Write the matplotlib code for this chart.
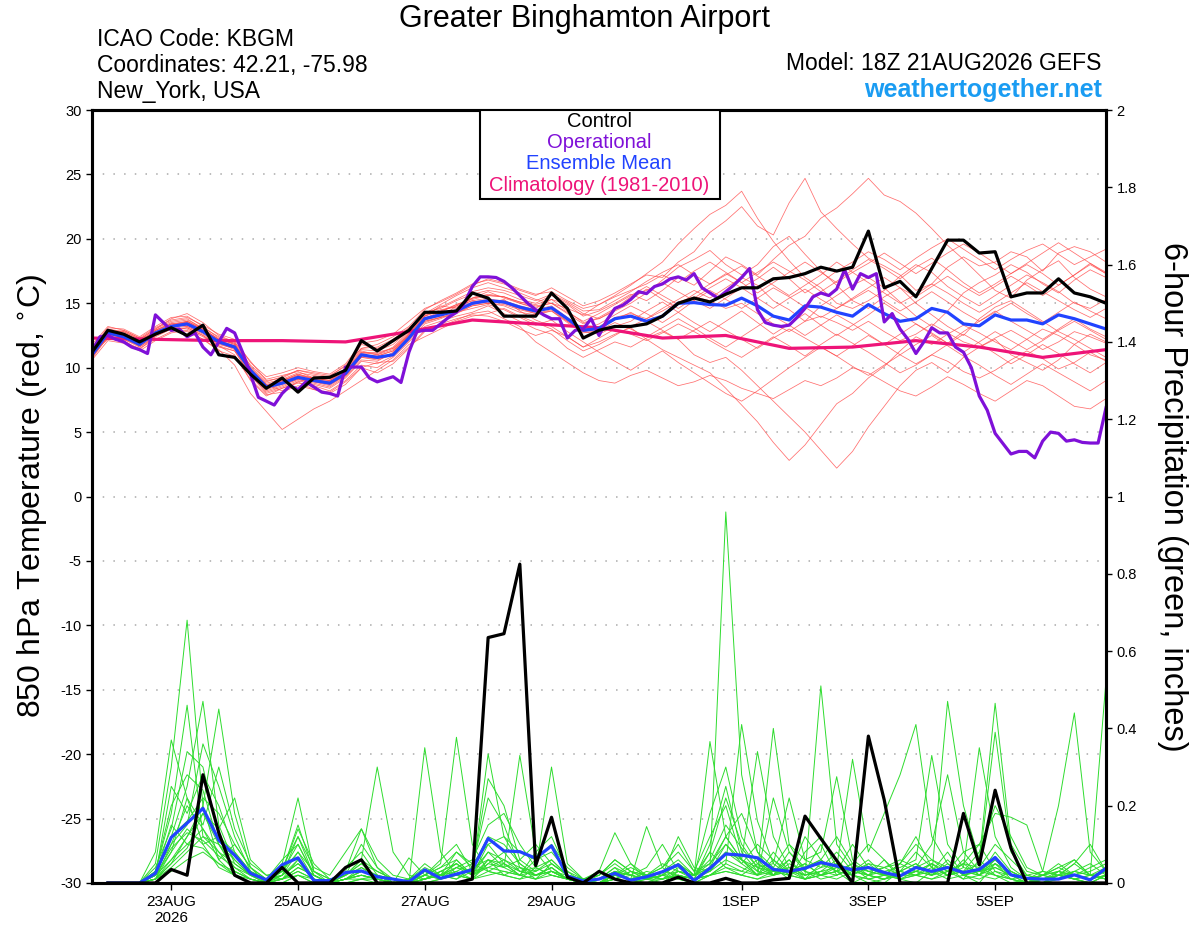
import numpy as np
import pandas as pd
from matplotlib import pyplot as plt
from matplotlib.patches import Rectangle

plt.rcParams['font.family'] = ['Liberation Sans', 'DejaVu Sans']
plt.rcParams['axes.unicode_minus'] = False

# 6-hourly steps from 18Z 21 Aug 2026 (GEFS), 3-hourly for the operational run
times = pd.date_range('2026-08-21 18:00', periods=65, freq='6h')
times_op = pd.date_range('2026-08-21 18:00', periods=129, freq='3h')
times_clim = pd.date_range('2026-08-21 18:00', periods=17, freq='24h')

tick_days = pd.to_datetime(['2026-08-23', '2026-08-25', '2026-08-27', '2026-08-29',
                            '2026-09-01', '2026-09-03', '2026-09-05'])
tick_labels = ['23AUG\n2026', '25AUG', '27AUG', '29AUG', '1SEP', '3SEP', '5SEP']

# 850 hPa temperature (C)
t_control = [11.2, 12.9, 12.6, 12.0, 12.6, 13.1, 12.5, 13.3, 11.0, 10.8, 9.5, 8.4, 9.2,
             8.1, 9.2, 9.25, 9.8, 12.1, 11.3, 12.1, 12.9, 14.3, 14.3, 14.4, 15.8, 15.4,
             14.0, 14.0, 14.0, 15.8, 14.6, 12.3, 12.9, 13.2, 13.2, 13.4, 14.0, 15.0, 15.4,
             15.1, 15.7, 16.2, 16.2, 16.9, 17.0, 17.3, 17.8, 17.5, 17.8, 20.6, 16.2, 16.7,
             15.5, 17.7, 19.9, 19.9, 18.9, 19.0, 15.5, 15.8, 15.8, 16.9, 15.8, 15.5, 15.0]
t_mean = [11.0, 12.7, 12.4, 11.8, 12.7, 13.2, 13.4, 12.8, 12.0, 11.6, 9.8, 8.5, 8.8,
          9.25, 9.0, 8.8, 9.55, 11.0, 10.8, 11.0, 12.3, 13.8, 14.1, 14.4, 15.0, 15.2,
          15.1, 14.7, 14.4, 14.65, 13.8, 12.9, 13.05, 13.8, 14.0, 13.6, 14.0, 15.0, 15.05,
          14.9, 14.85, 15.4, 14.8, 14.0, 13.7, 14.8, 14.7, 14.3, 14.0, 14.9, 14.2, 13.6,
          13.8, 14.6, 14.3, 13.4, 13.25, 14.1, 13.7, 13.7, 13.4, 14.1, 13.8, 13.4, 13.0]
t_oper = [11.3, 12.4, 12.5, 12.2, 12.0, 11.6, 11.4, 11.1, 14.1, 13.5, 12.9, 13.0, 12.4,
          12.7, 11.6, 11.0, 12.0, 13.05, 12.7, 11.2, 9.5, 7.7, 7.4, 7.1, 8.0, 8.6,
          8.3, 8.9, 8.5, 8.1, 8.0, 7.8, 10.05, 10.05, 10.05, 9.2, 8.9, 9.1, 9.3, 8.85,
          11.2, 12.8, 12.9, 12.9, 13.4, 13.9, 14.3, 15.0, 16.3, 17.05, 17.05, 17.0, 16.7,
          16.2, 15.6, 15.0, 14.5, 14.1, 13.8, 13.8, 12.3, 12.9, 13.0, 13.8, 12.5, 13.7,
          14.6, 14.85, 15.3, 15.9, 15.75, 16.3, 16.5, 16.9, 17.05, 16.8, 17.3, 16.2, 15.8,
          15.4, 15.9, 16.4, 17.0, 17.7, 14.5, 13.5, 13.3, 13.2, 13.3, 13.9, 14.6, 15.5,
          15.8, 15.6, 16.1, 17.6, 16.1, 17.3, 17.0, 17.3, 13.55, 14.2, 13.0, 12.2, 11.1,
          12.0, 13.1, 12.7, 12.7, 11.6, 11.2, 10.0, 7.8, 6.7, 4.9, 4.1, 3.3, 3.5,
          3.5, 3.0, 4.3, 5.0, 4.9, 4.3, 4.4, 4.2, 4.15, 4.15, 6.9]
t_clim = [12.3, 12.2, 12.1, 12.1, 12.0, 12.8, 13.7, 13.4, 13.1, 12.3, 12.5, 11.5, 11.6,
          12.1, 11.6, 10.8, 11.4]

t_members = [
    [11.5, 12.9, 12.8, 12.2, 13.0, 13.8, 14.2, 13.5, 12.5, 12.0, 10.5, 9.0, 9.2, 9.8, 9.5, 9.3, 10.2,
     11.5, 11.8, 12.4, 13.2, 14.5, 15.2, 15.8, 16.5, 16.8, 16.5, 16.0, 15.6, 16.2, 15.5, 14.8, 15.2,
     15.8, 16.5, 17.2, 17.0, 18.2, 19.0, 20.5, 21.4, 22.5, 21.0, 20.3, 22.8, 24.7, 22.1, 20.8, 19.6,
     18.5, 17.9, 17.2, 16.0, 16.5, 17.8, 18.6, 17.9, 18.2, 19.0, 18.6, 17.5, 18.9, 19.4, 19.0, 18.2],
    [10.8, 12.5, 12.6, 11.6, 12.4, 13.0, 13.6, 13.0, 12.2, 11.9, 9.6, 8.2, 8.6, 9.1, 8.8, 8.5, 9.3,
     10.6, 10.5, 11.2, 12.6, 14.0, 14.8, 14.6, 15.4, 15.9, 15.4, 15.0, 14.6, 15.3, 14.9, 14.0, 14.4,
     15.0, 15.7, 15.2, 16.0, 17.0, 16.4, 17.5, 18.6, 18.0, 17.2, 18.4, 19.5, 20.2, 21.6, 22.4, 23.5,
     24.7, 23.4, 22.9, 22.0, 20.8, 19.5, 18.4, 17.2, 16.0, 15.4, 16.8, 17.6, 18.3, 17.0, 16.1, 15.5],
    [11.2, 12.2, 12.1, 11.4, 12.5, 13.1, 13.0, 12.4, 11.7, 11.0, 9.0, 7.8, 8.4, 8.8, 8.6, 8.2, 9.0,
     10.2, 10.0, 10.8, 12.0, 13.2, 13.6, 14.0, 14.3, 14.8, 14.2, 13.6, 13.0, 12.6, 11.5, 10.8, 11.4,
     12.0, 11.6, 12.3, 12.8, 12.2, 11.0, 10.4, 10.8, 9.8, 8.6, 7.4, 6.2, 5.0, 3.6, 2.2, 3.5,
     5.4, 7.0, 8.6, 9.8, 10.4, 9.6, 10.8, 11.6, 12.2, 11.0, 10.4, 9.8, 10.6, 11.8, 12.6, 12.0],
    [11.0, 12.8, 12.3, 11.9, 12.9, 13.4, 13.2, 12.6, 11.8, 11.5, 9.9, 8.7, 8.2, 8.9, 9.3, 9.1, 9.8,
     11.3, 11.0, 11.6, 12.8, 13.5, 13.9, 14.8, 15.2, 15.0, 15.3, 14.4, 13.7, 13.2, 12.4, 11.6, 12.0,
     12.6, 13.1, 12.2, 11.4, 10.8, 10.2, 9.6, 8.4, 7.1, 5.8, 4.2, 2.8, 4.0, 5.6, 7.2, 8.0,
     9.2, 10.1, 11.3, 12.4, 11.8, 12.6, 13.3, 12.7, 12.0, 11.4, 12.2, 13.0, 12.5, 11.8, 11.0, 10.6],
    [10.9, 12.3, 12.0, 11.5, 12.2, 12.8, 13.1, 12.5, 11.6, 11.3, 9.4, 8.0, 8.4, 8.9, 8.3, 8.1, 8.9,
     10.0, 10.4, 10.5, 11.6, 12.9, 13.2, 13.7, 14.2, 14.4, 13.8, 13.2, 12.0, 11.2, 10.4, 9.6, 9.0,
     8.8, 9.4, 9.8, 9.2, 8.6, 8.9, 9.4, 9.0, 8.4, 8.0, 7.6, 8.3, 9.0, 8.6, 9.2, 10.0,
     9.6, 8.9, 8.2, 7.8, 8.5, 9.3, 8.7, 8.0, 7.4, 8.2, 9.0, 8.6, 7.8, 7.0, 6.8, 7.6],
    [11.3, 12.6, 12.9, 12.3, 12.6, 13.0, 12.8, 12.2, 11.4, 10.2, 8.0, 6.6, 5.2, 6.0, 6.8, 7.4, 8.2,
     9.0, 9.8, 10.6, 11.8, 12.4, 13.0, 13.6, 14.0, 14.2, 14.6, 14.0, 13.5, 13.0, 12.1, 11.3, 11.8,
     12.5, 13.2, 13.8, 14.6, 15.3, 16.0, 15.4, 16.2, 17.0, 16.4, 15.2, 14.5, 13.6, 14.8, 15.6, 16.4,
     17.0, 16.2, 15.1, 14.0, 13.2, 14.4, 15.8, 16.6, 17.2, 18.0, 17.4, 16.5, 15.8, 16.8, 17.6, 17.0],
    [11.6, 13.1, 13.0, 12.4, 13.2, 13.9, 14.0, 13.2, 12.3, 11.8, 10.2, 9.1, 9.4, 9.7, 9.2, 9.0, 9.9,
     11.8, 11.5, 12.0, 13.0, 14.3, 14.6, 15.2, 15.7, 16.0, 15.8, 15.3, 15.0, 15.6, 15.0, 14.2, 13.8,
     14.4, 15.0, 15.8, 16.8, 17.8, 18.4, 19.1, 18.0, 17.2, 18.0, 19.4, 20.2, 18.8, 17.5, 16.4, 15.2,
     14.6, 15.5, 16.2, 15.0, 14.1, 13.2, 12.5, 13.8, 14.7, 15.2, 14.4, 13.6, 12.8, 12.2, 11.5, 10.8],
    [10.7, 12.4, 12.2, 11.7, 12.6, 13.3, 13.5, 12.9, 12.1, 11.7, 9.7, 8.4, 9.0, 9.5, 9.1, 8.9, 9.6,
     11.1, 11.2, 11.5, 12.5, 13.7, 14.3, 14.9, 15.3, 15.6, 15.5, 15.1, 14.8, 15.0, 14.6, 14.1, 14.9,
     15.6, 16.4, 17.3, 18.2, 19.6, 20.8, 21.9, 22.6, 23.7, 21.6, 19.8, 18.3, 17.0, 16.2, 15.0, 14.6,
     15.2, 16.0, 17.1, 18.0, 17.4, 16.3, 15.5, 14.8, 15.6, 16.4, 17.2, 16.6, 15.9, 15.0, 14.6, 15.3],
    [11.1, 12.7, 12.5, 11.8, 12.8, 13.2, 13.3, 12.8, 12.0, 11.6, 9.8, 8.6, 8.9, 9.3, 9.0, 8.8, 9.5,
     10.9, 10.7, 11.1, 12.4, 13.9, 14.2, 14.5, 15.1, 15.3, 15.2, 14.8, 14.5, 14.8, 13.9, 13.0, 13.2,
     13.9, 14.2, 13.8, 14.4, 15.1, 15.5, 15.2, 14.6, 15.0, 14.2, 13.4, 12.8, 13.6, 14.0, 13.5, 12.9,
     13.6, 12.8, 12.1, 12.6, 13.4, 12.7, 12.0, 11.6, 12.3, 12.9, 12.2, 11.4, 12.0, 12.8, 12.4, 11.9],
    [11.4, 12.9, 12.7, 12.1, 12.9, 13.5, 13.7, 13.1, 12.4, 12.0, 10.1, 8.9, 9.3, 9.8, 9.6, 9.4, 10.1,
     11.5, 11.6, 12.2, 13.1, 14.2, 14.9, 15.6, 16.2, 16.6, 16.2, 15.8, 15.3, 15.0, 14.2, 13.4, 13.9,
     14.6, 15.5, 16.0, 16.6, 15.9, 15.2, 14.6, 15.4, 16.2, 16.9, 17.8, 16.9, 15.8, 16.6, 17.5, 18.2,
     19.0, 18.4, 17.6, 18.5, 19.3, 20.0, 19.2, 18.4, 17.6, 18.4, 19.1, 19.6, 18.8, 18.0, 18.6, 19.2],
    [10.6, 12.1, 11.9, 11.3, 12.1, 12.7, 12.9, 12.2, 11.3, 10.9, 9.1, 7.9, 8.1, 8.6, 8.3, 8.0, 8.7,
     10.0, 9.6, 10.3, 11.5, 12.8, 13.4, 13.8, 14.1, 14.0, 13.6, 13.0, 12.5, 12.9, 12.4, 11.6, 12.3,
     13.0, 12.6, 12.1, 12.7, 13.4, 12.8, 12.1, 11.4, 10.8, 11.6, 12.4, 11.7, 10.9, 11.8, 12.6, 11.9,
     11.2, 10.4, 9.6, 10.2, 11.0, 10.5, 9.7, 9.2, 9.8, 10.6, 11.3, 10.7, 9.9, 10.4, 11.2, 10.5],
    [11.8, 13.2, 12.9, 12.3, 13.1, 13.7, 13.9, 13.3, 12.6, 12.2, 10.4, 9.3, 9.6, 10.0, 9.7, 9.5, 10.3,
     11.9, 12.1, 12.6, 13.6, 14.6, 15.1, 15.7, 16.4, 16.9, 16.6, 16.1, 15.7, 15.9, 15.2, 14.6, 14.9,
     15.5, 16.0, 16.5, 17.2, 16.6, 17.5, 18.2, 17.4, 16.6, 17.4, 18.2, 17.5, 16.8, 15.9, 16.7, 17.6,
     18.4, 17.7, 16.9, 17.8, 18.5, 17.6, 16.6, 15.8, 16.5, 17.3, 18.0, 17.3, 16.4, 17.2, 18.1, 17.4],
    [11.0, 12.6, 12.4, 11.9, 12.6, 13.1, 13.2, 12.7, 11.9, 11.4, 9.6, 8.3, 8.7, 9.1, 8.9, 8.6, 9.4,
     10.8, 10.6, 11.0, 12.2, 13.6, 13.9, 14.2, 14.8, 15.0, 14.8, 14.3, 14.1, 14.4, 13.6, 12.8, 12.6,
     13.2, 13.6, 14.4, 15.1, 14.3, 13.5, 12.8, 13.6, 14.4, 13.5, 12.6, 13.4, 14.2, 13.3, 12.5, 13.3,
     14.1, 15.0, 14.2, 13.4, 12.6, 11.9, 12.8, 13.6, 14.4, 13.6, 12.9, 12.2, 13.0, 13.8, 13.0, 12.4],
    [11.5, 13.0, 12.8, 12.2, 13.0, 13.6, 13.8, 13.0, 12.2, 11.8, 10.0, 8.8, 9.1, 9.6, 9.4, 9.2, 9.9,
     11.4, 11.3, 11.8, 12.9, 14.1, 14.7, 15.3, 15.9, 16.2, 16.0, 15.6, 15.2, 15.7, 15.1, 14.4, 14.5,
     15.2, 15.9, 16.7, 17.4, 18.0, 17.2, 16.5, 17.2, 17.9, 17.1, 16.4, 15.6, 16.4, 17.2, 18.2, 17.4,
     16.6, 15.8, 15.0, 15.7, 16.5, 15.8, 15.0, 14.3, 15.0, 15.8, 16.6, 15.9, 15.2, 14.5, 13.9, 14.6],
    [10.9, 12.4, 12.2, 11.6, 12.5, 13.0, 13.1, 12.5, 11.7, 11.3, 9.5, 8.1, 8.5, 9.0, 8.7, 8.4, 9.2,
     10.5, 10.3, 10.9, 12.1, 13.4, 13.8, 14.3, 14.6, 14.9, 14.5, 13.9, 13.3, 13.7, 12.8, 12.0, 11.2,
     10.5, 9.8, 10.6, 11.3, 10.4, 9.6, 8.8, 8.0, 7.4, 8.2, 9.1, 10.0, 10.8, 11.6, 10.9, 10.1,
     9.4, 10.2, 11.0, 11.8, 12.5, 11.7, 10.9, 10.2, 9.4, 8.7, 9.5, 10.3, 9.6, 8.9, 8.2, 9.0],
    [11.3, 12.8, 12.6, 12.0, 12.7, 13.3, 13.6, 13.0, 12.2, 11.9, 9.9, 8.6, 9.0, 9.4, 9.2, 9.0, 9.7,
     11.2, 11.0, 11.4, 12.6, 14.0, 14.5, 14.7, 15.2, 15.4, 15.0, 14.6, 14.3, 14.6, 13.7, 12.9, 13.4,
     14.1, 14.8, 14.2, 13.5, 14.3, 15.2, 16.0, 15.3, 14.6, 15.4, 16.2, 15.5, 14.7, 13.9, 14.6, 15.3,
     16.0, 15.2, 14.4, 15.1, 15.9, 15.1, 14.3, 13.6, 14.3, 15.0, 14.2, 13.5, 14.3, 15.1, 14.4, 13.8],
    [10.8, 12.5, 12.3, 11.7, 12.6, 13.2, 13.4, 12.9, 12.1, 11.6, 9.7, 8.5, 8.8, 9.2, 8.9, 8.7, 9.4,
     10.9, 10.9, 11.3, 12.4, 13.7, 14.0, 14.4, 14.9, 15.1, 15.0, 14.6, 14.2, 14.4, 13.5, 12.7, 12.9,
     13.5, 13.0, 12.4, 13.1, 13.8, 13.1, 12.3, 11.6, 12.4, 13.2, 14.0, 13.3, 12.5, 13.3, 14.1, 13.4,
     12.6, 11.8, 12.6, 13.4, 12.7, 11.9, 11.2, 12.0, 12.8, 12.1, 11.4, 12.1, 12.9, 13.6, 12.9, 12.2],
    [11.2, 12.7, 12.5, 11.9, 12.8, 13.4, 13.5, 12.8, 12.0, 11.7, 9.8, 8.6, 8.9, 9.4, 9.1, 8.9, 9.6,
     11.0, 10.9, 11.3, 12.5, 13.8, 14.4, 14.8, 15.4, 15.7, 15.5, 15.0, 14.7, 15.0, 14.3, 13.6, 14.2,
     14.9, 15.6, 16.3, 15.6, 14.9, 15.7, 16.5, 17.3, 16.6, 15.8, 16.6, 17.4, 18.2, 17.4, 16.6, 17.4,
     18.1, 18.9, 18.1, 17.3, 18.1, 18.9, 19.6, 18.9, 18.1, 17.3, 18.1, 18.9, 19.7, 18.9, 18.1, 17.3],
    [11.1, 12.6, 12.3, 11.8, 12.7, 13.2, 13.3, 12.7, 11.9, 11.5, 9.6, 8.4, 8.8, 9.2, 9.0, 8.7, 9.4,
     10.8, 10.7, 11.0, 12.3, 13.6, 13.9, 14.3, 14.8, 15.0, 14.9, 14.5, 14.2, 14.5, 13.6, 12.8, 13.0,
     13.7, 14.3, 13.6, 12.9, 12.2, 12.9, 13.6, 12.9, 12.2, 11.5, 12.3, 13.0, 12.3, 11.6, 10.9, 11.7,
     12.5, 11.8, 11.0, 10.3, 11.0, 11.8, 12.6, 11.9, 11.1, 10.3, 11.0, 11.8, 11.1, 10.3, 9.6, 10.4],
    [11.4, 12.8, 12.5, 12.0, 12.9, 13.4, 13.6, 12.9, 12.1, 11.7, 9.8, 8.7, 9.0, 9.5, 9.2, 9.0, 9.7,
     11.2, 11.1, 11.5, 12.7, 14.0, 14.4, 14.9, 15.4, 15.6, 15.5, 15.1, 14.9, 15.3, 14.4, 13.5, 13.8,
     14.5, 15.3, 16.1, 15.3, 14.6, 15.4, 16.2, 16.9, 16.2, 15.4, 14.6, 15.4, 16.1, 15.3, 14.6, 15.4,
     16.2, 17.0, 16.2, 15.5, 16.3, 17.1, 16.3, 15.6, 16.3, 17.1, 16.4, 15.6, 16.4, 17.2, 18.0, 17.3],
]

# 6-hour precipitation (inches), first value is the analysis time
p_control = [0, 0, 0, 0, 0, 0.035, 0.02, 0.28, 0.13, 0.02, 0, 0, 0.04,
             0, 0, 0, 0.04, 0.06, 0, 0, 0, 0, 0, 0, 0.01, 0.635,
             0.645, 0.825, 0.045, 0.17, 0.015, 0, 0.03, 0.01, 0, 0, 0, 0.015, 0,
             0, 0.012, 0, 0, 0.008, 0.012, 0.173, 0.115, 0.058, 0, 0.38, 0.215, 0,
             0, 0, 0, 0.18, 0.047, 0.24, 0.09, 0, 0, 0, 0, 0, 0]
p_mean = [0, 0, 0, 0, 0.025, 0.118, 0.155, 0.193, 0.111, 0.072, 0.025, 0.008, 0.047,
          0.065, 0.006, 0.006, 0.027, 0.031, 0.016, 0.01, 0.003, 0.034, 0.012, 0.023, 0.034, 0.115,
          0.083, 0.081, 0.064, 0.096, 0.018, 0.005, 0.01, 0.025, 0.007, 0.016, 0.029, 0.047, 0.006,
          0.038, 0.075, 0.072, 0.065, 0.035, 0.03, 0.038, 0.053, 0.044, 0.034, 0.04, 0.027, 0.018,
          0.04, 0.03, 0.04, 0.027, 0.035, 0.066, 0.021, 0.012, 0.01, 0.01, 0.021, 0.008, 0.038]

p_members = [
    [0, 0, 0, 0, 0.05, 0.30, 0.68, 0.20, 0.06, 0.02, 0, 0, 0.03, 0.08, 0.01, 0, 0.02, 0.05, 0.01, 0, 0,
     0.03, 0.01, 0.06, 0.02, 0.10, 0.05, 0.02, 0.08, 0.12, 0.03, 0, 0.01, 0.04, 0, 0, 0.02, 0.05, 0.01,
     0.08, 0.22, 0.10, 0.04, 0.02, 0.06, 0.01, 0.05, 0.03, 0, 0.02, 0.06, 0.01, 0, 0.03, 0.08, 0.02, 0,
     0.05, 0.01, 0, 0, 0.03, 0.06, 0.02, 0.04],
    [0, 0, 0, 0, 0.03, 0.18, 0.46, 0.12, 0.08, 0.03, 0.01, 0, 0.05, 0.22, 0.03, 0, 0.01, 0.03, 0.02, 0,
     0.01, 0.05, 0.02, 0.01, 0.04, 0.22, 0.15, 0.04, 0.02, 0.03, 0.01, 0, 0, 0.02, 0.05, 0.01, 0, 0.03,
     0.02, 0.366, 0.12, 0.06, 0.02, 0.04, 0.01, 0.08, 0.12, 0.04, 0.02, 0.01, 0, 0.03, 0.05, 0.02, 0.04,
     0.01, 0.06, 0.02, 0, 0.01, 0, 0.02, 0.01, 0, 0.02],
    [0, 0, 0, 0, 0.02, 0.12, 0.25, 0.47, 0.15, 0.05, 0.02, 0.01, 0.06, 0.10, 0.02, 0, 0.03, 0.14, 0.04,
     0, 0, 0.02, 0.05, 0.377, 0.10, 0.03, 0.02, 0.01, 0.04, 0.06, 0.02, 0.01, 0.03, 0.13, 0.05, 0.02,
     0.01, 0.04, 0.01, 0.02, 0.05, 0.41, 0.16, 0.05, 0.02, 0.01, 0.03, 0.06, 0.02, 0, 0.01, 0.03, 0.02,
     0.01, 0.03, 0.05, 0.02, 0.01, 0.03, 0.01, 0, 0.02, 0.05, 0.10, 0.03],
    [0, 0, 0, 0, 0.01, 0.06, 0.12, 0.20, 0.45, 0.18, 0.04, 0, 0.02, 0.06, 0.01, 0, 0.02, 0.06, 0.30,
     0.08, 0.02, 0.01, 0.03, 0.05, 0.02, 0.334, 0.12, 0.05, 0.02, 0.03, 0.01, 0, 0, 0.02, 0.01, 0.146,
     0.04, 0.01, 0.02, 0.04, 0.96, 0.28, 0.08, 0.02, 0.05, 0.03, 0.10, 0.02, 0.04, 0.01, 0.02, 0.05,
     0.12, 0.04, 0.02, 0.06, 0.02, 0.08, 0.03, 0.01, 0.02, 0.05, 0.02, 0.01, 0.04],
    [0, 0, 0, 0, 0.08, 0.37, 0.22, 0.10, 0.04, 0.02, 0, 0, 0.04, 0.12, 0.02, 0, 0.04, 0.08, 0.02, 0.01,
     0, 0.35, 0.08, 0.02, 0.01, 0.05, 0.04, 0.33, 0.08, 0.03, 0.01, 0, 0.02, 0.05, 0.02, 0.01, 0.03,
     0.06, 0.02, 0.05, 0.10, 0.06, 0.34, 0.12, 0.04, 0.02, 0.51, 0.10, 0.04, 0.02, 0.01, 0.03, 0.05,
     0.02, 0.03, 0.01, 0.02, 0.06, 0.02, 0, 0.01, 0.03, 0.01, 0, 0.02],
    [0, 0, 0, 0, 0.04, 0.14, 0.34, 0.30, 0.12, 0.06, 0.02, 0.01, 0.03, 0.15, 0.03, 0.01, 0.02, 0.04,
     0.01, 0, 0.01, 0.02, 0.01, 0.04, 0.03, 0.27, 0.20, 0.06, 0.03, 0.30, 0.05, 0.01, 0, 0.02, 0.04,
     0.02, 0.05, 0.03, 0.01, 0.10, 0.25, 0.08, 0.03, 0.40, 0.10, 0.03, 0.02, 0.05, 0.02, 0.04, 0.03,
     0.01, 0.03, 0.02, 0.05, 0.02, 0.04, 0.02, 0.01, 0, 0.02, 0.01, 0.03, 0.02, 0.01],
    [0, 0, 0, 0, 0.02, 0.25, 0.18, 0.28, 0.20, 0.08, 0.03, 0, 0.02, 0.05, 0.01, 0, 0.01, 0.02, 0.01, 0,
     0, 0.01, 0.02, 0.03, 0.01, 0.06, 0.04, 0.02, 0.03, 0.05, 0.02, 0, 0.01, 0.03, 0.02, 0.04, 0.10,
     0.03, 0.02, 0.06, 0.15, 0.09, 0.04, 0.05, 0.22, 0.06, 0.08, 0.275, 0.06, 0.03, 0.02, 0.02, 0.04,
     0.10, 0.28, 0.08, 0.03, 0.05, 0.02, 0.01, 0.03, 0.02, 0.02, 0.01, 0.03],
    [0, 0, 0, 0, 0.03, 0.20, 0.28, 0.24, 0.10, 0.04, 0.01, 0, 0.01, 0.04, 0.02, 0, 0.01, 0.03, 0.02,
     0.01, 0, 0.02, 0.06, 0.10, 0.03, 0.08, 0.06, 0.04, 0.01, 0.05, 0.02, 0.01, 0, 0.01, 0.03, 0.02,
     0.04, 0.08, 0.03, 0.12, 0.20, 0.06, 0.02, 0.03, 0.04, 0.02, 0.03, 0.04, 0.32, 0.08, 0.18, 0.28,
     0.41, 0.12, 0.05, 0.02, 0.03, 0.04, 0.02, 0.01, 0, 0.01, 0.02, 0.01, 0.02],
    [0, 0, 0, 0, 0.01, 0.10, 0.15, 0.36, 0.25, 0.12, 0.03, 0.01, 0.02, 0.08, 0.03, 0.01, 0.02, 0.10,
     0.04, 0.01, 0, 0.01, 0.02, 0.08, 0.04, 0.12, 0.10, 0.05, 0.02, 0.04, 0.01, 0, 0, 0.02, 0.01, 0.03,
     0.02, 0.05, 0.02, 0.03, 0.08, 0.05, 0.10, 0.06, 0.02, 0.12, 0.06, 0.03, 0.05, 0.02, 0.03, 0.04,
     0.06, 0.33, 0.10, 0.04, 0.35, 0.12, 0.04, 0.01, 0.02, 0.01, 0.03, 0.02, 0.01],
    [0, 0, 0, 0, 0.02, 0.08, 0.22, 0.15, 0.30, 0.14, 0.05, 0.02, 0.03, 0.10, 0.02, 0, 0.01, 0.04, 0.02,
     0, 0.01, 0.04, 0.02, 0.05, 0.02, 0.04, 0.03, 0.02, 0.06, 0.08, 0.03, 0.01, 0.02, 0.06, 0.03, 0.01,
     0.02, 0.12, 0.04, 0.03, 0.06, 0.04, 0.02, 0.08, 0.03, 0.05, 0.02, 0.04, 0.03, 0.06, 0.02, 0.05,
     0.03, 0.02, 0.47, 0.20, 0.06, 0.465, 0.10, 0.03, 0.02, 0.04, 0.02, 0.03, 0.05],
    [0, 0, 0, 0, 0.01, 0.05, 0.12, 0.18, 0.14, 0.22, 0.06, 0.02, 0.01, 0.06, 0.01, 0, 0.02, 0.05, 0.03,
     0.01, 0, 0.02, 0.04, 0.06, 0.02, 0.05, 0.08, 0.03, 0.02, 0.04, 0.01, 0, 0.01, 0.04, 0.02, 0.01,
     0.03, 0.02, 0.01, 0.04, 0.12, 0.06, 0.03, 0.02, 0.08, 0.04, 0.06, 0.03, 0.10, 0.04, 0.02, 0.03,
     0.08, 0.04, 0.02, 0.03, 0.05, 0.39, 0.08, 0.02, 0.03, 0.20, 0.44, 0.08, 0.03],
    [0, 0, 0, 0, 0.02, 0.15, 0.10, 0.14, 0.08, 0.05, 0.02, 0, 0.02, 0.05, 0.02, 0, 0.01, 0.02, 0.01, 0,
     0.065, 0.02, 0.01, 0.03, 0.05, 0.03, 0.05, 0.02, 0.01, 0.03, 0.02, 0, 0, 0.03, 0.01, 0.02, 0.01,
     0.03, 0.02, 0.08, 0.04, 0.02, 0.05, 0.03, 0.06, 0.02, 0.04, 0.08, 0.03, 0.02, 0.04, 0.02, 0.03,
     0.05, 0.02, 0.04, 0.03, 0.06, 0.02, 0.01, 0.02, 0.04, 0.06, 0.02, 0.525],
    [0, 0, 0, 0, 0.03, 0.10, 0.20, 0.14, 0.06, 0.10, 0.04, 0.01, 0.01, 0.03, 0.01, 0, 0.01, 0.02, 0.01,
     0, 0, 0.01, 0.03, 0.02, 0.04, 0.06, 0.02, 0.04, 0.03, 0.06, 0.02, 0.01, 0, 0.01, 0.03, 0.01, 0.02,
     0.01, 0, 0.02, 0.05, 0.03, 0.06, 0.02, 0.04, 0.01, 0.02, 0.03, 0.02, 0.05, 0.02, 0.01, 0.02, 0.04,
     0.02, 0.05, 0.10, 0.03, 0.01, 0.02, 0.01, 0.02, 0.05, 0.02, 0.01],
    [0, 0, 0, 0, 0.01, 0.04, 0.08, 0.12, 0.10, 0.06, 0.02, 0, 0.01, 0.02, 0.01, 0, 0.01, 0.01, 0.02, 0,
     0, 0.01, 0.02, 0.01, 0.03, 0.04, 0.06, 0.03, 0.02, 0.04, 0.01, 0, 0, 0.02, 0.01, 0.02, 0.01, 0.02,
     0.01, 0.03, 0.10, 0.05, 0.02, 0.22, 0.08, 0.03, 0.01, 0.02, 0.04, 0.02, 0.01, 0.02, 0.03, 0.02,
     0.06, 0.02, 0.01, 0.03, 0.02, 0, 0.01, 0.02, 0.01, 0.02, 0.01],
    [0, 0, 0, 0, 0.02, 0.06, 0.10, 0.09, 0.05, 0.03, 0.01, 0, 0, 0.02, 0, 0, 0, 0.01, 0, 0, 0, 0, 0.01,
     0.02, 0.01, 0.03, 0.02, 0.01, 0.02, 0.03, 0.01, 0, 0, 0.01, 0, 0.01, 0.02, 0.01, 0, 0.02, 0.03,
     0.02, 0.01, 0.02, 0.03, 0.01, 0.02, 0.01, 0.03, 0.02, 0.01, 0.02, 0.02, 0.03, 0.01, 0.02, 0.03,
     0.02, 0.01, 0, 0.01, 0.02, 0.01, 0, 0.02],
    [0, 0, 0, 0, 0.01, 0.08, 0.14, 0.10, 0.12, 0.08, 0.03, 0.01, 0.02, 0.12, 0.04, 0.02, 0.08, 0.14,
     0.06, 0.02, 0.01, 0.03, 0.02, 0.04, 0.06, 0.15, 0.18, 0.10, 0.04, 0.02, 0.01, 0, 0.01, 0.03, 0.02,
     0.01, 0.03, 0.05, 0.02, 0.18, 0.30, 0.12, 0.05, 0.02, 0.03, 0.05, 0.02, 0.03, 0.05, 0.10, 0.06,
     0.02, 0.03, 0.05, 0.02, 0.03, 0.08, 0.20, 0.12, 0.04, 0.02, 0.03, 0.02, 0.04, 0.06],
    [0, 0, 0, 0, 0.02, 0.12, 0.16, 0.22, 0.18, 0.10, 0.04, 0.01, 0.03, 0.14, 0.05, 0.01, 0.02, 0.06,
     0.03, 0.01, 0, 0.02, 0.04, 0.08, 0.05, 0.10, 0.12, 0.08, 0.06, 0.10, 0.04, 0.01, 0.02, 0.06, 0.03,
     0.02, 0.04, 0.10, 0.03, 0.05, 0.12, 0.18, 0.08, 0.04, 0.10, 0.06, 0.04, 0.05, 0.03, 0.05, 0.04,
     0.06, 0.04, 0.06, 0.03, 0.05, 0.04, 0.10, 0.06, 0.02, 0.01, 0.02, 0.03, 0.05, 0.02],
    [0, 0, 0, 0, 0.01, 0.05, 0.09, 0.18, 0.10, 0.03, 0.01, 0, 0.01, 0.04, 0.02, 0, 0.01, 0.03, 0.02, 0,
     0, 0.01, 0.03, 0.05, 0.02, 0.08, 0.04, 0.06, 0.10, 0.05, 0.02, 0, 0, 0.01, 0.02, 0.01, 0.02, 0.03,
     0.02, 0.04, 0.08, 0.06, 0.04, 0.03, 0.02, 0.04, 0.06, 0.12, 0.05, 0.03, 0.04, 0.05, 0.10, 0.06,
     0.04, 0.03, 0.02, 0.05, 0.03, 0.01, 0.02, 0.03, 0.02, 0.01, 0.02],
    [0, 0, 0, 0, 0.02, 0.09, 0.13, 0.11, 0.07, 0.04, 0.02, 0, 0.01, 0.03, 0.01, 0, 0.01, 0.02, 0.01, 0,
     0, 0.01, 0.02, 0.04, 0.02, 0.06, 0.05, 0.03, 0.04, 0.02, 0.01, 0, 0, 0.02, 0.01, 0, 0.01, 0.02,
     0.01, 0.02, 0.04, 0.03, 0.02, 0.06, 0.03, 0.02, 0.03, 0.02, 0.04, 0.03, 0.02, 0.01, 0.02, 0.05,
     0.03, 0.08, 0.10, 0.18, 0.17, 0.15, 0.03, 0.02, 0.01, 0.02, 0.03],
    [0, 0, 0, 0, 0.01, 0.03, 0.06, 0.08, 0.05, 0.02, 0.01, 0, 0, 0.02, 0, 0, 0, 0.01, 0.01, 0, 0, 0,
     0.01, 0.02, 0.01, 0.02, 0.03, 0.02, 0.01, 0.02, 0.01, 0, 0, 0.01, 0, 0.01, 0.01, 0.02, 0.01,
     0.02, 0.03, 0.02, 0.01, 0.03, 0.02, 0.01, 0.02, 0.03, 0.02, 0.01, 0.02, 0.03, 0.02, 0.01, 0.02,
     0.03, 0.02, 0.04, 0.02, 0.01, 0, 0.01, 0.02, 0.01, 0.02],
]

legend_labels = ['Control', 'Operational', 'Ensemble Mean', 'Climatology (1981-2010)']

c_control = 'black'
c_oper = '#7f10d8'
c_mean = '#2143ff'
c_clim = '#ee1478'
c_member_t = '#ff4a4a'
c_member_p = '#2edc2e'

fig = plt.figure(figsize=(12, 9.27), dpi=100)
ax = fig.add_axes([0.0767, 0.0475, 0.845, 0.8338])
ax2 = ax.twinx()

# precipitation on the right axis
for m in p_members:
    ax2.plot(times[1:], m[1:], color=c_member_p, lw=0.7)
ax2.plot(times[1:], p_mean[1:], color=c_mean, lw=2.3)
ax2.plot(times[1:], p_control[1:], color=c_control, lw=2.3)

# temperature on the left axis
for m in t_members:
    ax.plot(times, m, color=c_member_t, lw=0.55, alpha=0.8)
ax.plot(times_clim, t_clim, color=c_clim, lw=2.3)
ax.plot(times, t_mean, color=c_mean, lw=2.3)
ax.plot(times_op, t_oper, color=c_oper, lw=2.3)
ax.plot(times, t_control, color=c_control, lw=2.3)

ax.set_xlim(times[0], times[-1])
ax.set_ylim(-30, 30)
ax2.set_ylim(0, 2)
ax.set_yticks(np.arange(-30, 31, 5))
ax2.set_yticks(np.arange(0, 2.01, 0.2))
ax2.set_yticklabels(['%g' % v for v in np.arange(0, 2.01, 0.2).round(1)])
ax.set_xticks(tick_days)
ax.set_xticklabels(tick_labels)

for y in np.arange(-25, 30, 5):
    ax.axhline(y, color='#aaaaaa', lw=1.1, ls=(0, (1, 6)), zorder=0)

for a in [ax, ax2]:
    for axis in ['top', 'bottom', 'left', 'right']:
        a.spines[axis].set_linewidth(2.2)
ax.tick_params(axis='y', labelsize=10.5, direction='out', length=4, width=1)
ax2.tick_params(axis='y', labelsize=10.5, direction='out', length=4, width=1)
ax.tick_params(axis='x', labelsize=11, direction='out', length=5, width=1)

ax.set_ylabel('850 hPa Temperature (red, $^{\\circ}$C)', fontsize=23, ha='center', va='center')
ax.yaxis.set_label_coords(-0.059, 0.5)
ax2.set_ylabel('6-hour Precipitation (green, inches)', fontsize=23.5, rotation=270,
               ha='center', va='center')
ax2.yaxis.set_label_coords(1.066, 0.5)

# legend: centred coloured labels in a box hanging from the top of the plot
ax2.add_patch(Rectangle((0.3826, 0.8849), 0.2367, 0.1151, transform=ax2.transAxes,
                        facecolor='white', edgecolor='black', lw=1.5, zorder=10))
for k, (lab, col) in enumerate(zip(legend_labels, [c_control, c_oper, c_mean, c_clim])):
    ax2.text(0.5, 0.9858 - k * 0.0276, lab, color=col, fontsize=14.5, ha='center',
             va='center', transform=ax2.transAxes, zorder=11)

fig.text(0.487, 0.979, 'Greater Binghamton Airport', fontsize=22, ha='center', va='center')
fig.text(0.081, 0.957, 'ICAO Code: KBGM', fontsize=16.5, va='center')
fig.text(0.081, 0.929, 'Coordinates: 42.21, -75.98', fontsize=16.5, va='center')
fig.text(0.081, 0.901, 'New_York, USA', fontsize=16.5, va='center')
fig.text(0.918, 0.932, 'Model: 18Z 21AUG2026 GEFS', fontsize=16.5, ha='right', va='center')
fig.text(0.918, 0.903, 'weathertogether.net', fontsize=18, ha='right', va='center',
         color='#1a9cf2', fontweight='bold')

plt.savefig('out.png', dpi=100)
